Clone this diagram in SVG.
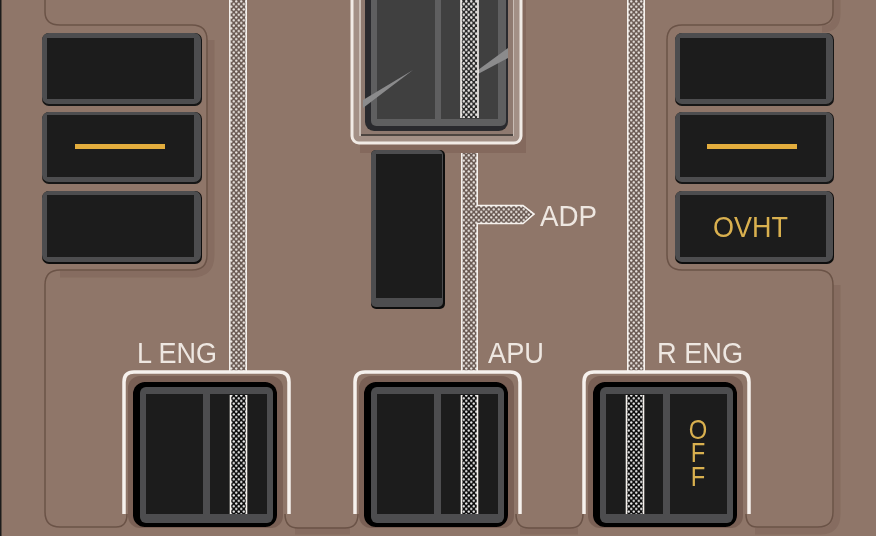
<svg xmlns="http://www.w3.org/2000/svg" width="876" height="536" viewBox="0 0 876 536">
<style>
.panel{fill:none;stroke:#6b5347;stroke-width:1.5}
.panelsh{fill:none;stroke:#866c60;stroke-width:7}
.guard{fill:none;stroke:#f6f1ed;stroke-width:3.5}
.halo{fill:#7a6155}
.out{fill:#000}
.frame{fill:#4e4e4f}
.pane{fill:#1b1b1b}
.dark{fill:#3f3f40}
.lab{font-family:"Liberation Sans",Arial,sans-serif;font-size:29px;fill:#eee7e1}
.amb{font-family:"Liberation Sans",Arial,sans-serif;font-size:29px;fill:#d9b04f}
.bar{fill:#e3ad3d}
.edge{stroke:#f6f2ee;stroke-width:1.6;fill:none}
.s1{fill:url(#dotsOut)}
.s2{fill:url(#dotsIn)}
.s3{fill:url(#dotsTop)}
</style>
<defs>
<pattern id="dotsOut" width="5" height="5.4" patternUnits="userSpaceOnUse">
<rect width="5" height="5.4" fill="#6a5a53"/>
<circle cx="1.25" cy="1.35" r="1.2" fill="#efe9e4"/><circle cx="3.75" cy="4.05" r="1.2" fill="#efe9e4"/>
</pattern>
<pattern id="dotsIn" width="5" height="5.4" patternUnits="userSpaceOnUse">
<rect width="5" height="5.4" fill="#0c0c0c"/>
<circle cx="1.25" cy="1.35" r="1.2" fill="#f0f0f0"/><circle cx="3.75" cy="4.05" r="1.2" fill="#f0f0f0"/>
</pattern>
<pattern id="dotsTop" width="5" height="5.4" patternUnits="userSpaceOnUse">
<rect width="5" height="5.4" fill="#2c2c2c"/>
<circle cx="1.25" cy="1.35" r="1.25" fill="#e6e3e1"/><circle cx="3.75" cy="4.05" r="1.25" fill="#e6e3e1"/>
</pattern>
<filter id="soft" x="0" y="0" width="100%" height="100%"><feGaussianBlur stdDeviation="0.4"/></filter>
<g id="sw">
<rect x="-5" y="-6" width="155" height="152" rx="12" class="halo"/>
<rect x="0" y="0" width="144" height="145" rx="12" class="out"/>
<rect x="7" y="5" width="133" height="136" rx="6" class="frame"/>
<rect x="13" y="12" width="57" height="120" class="pane"/>
<rect x="77" y="12" width="57" height="120" class="pane"/>
</g>
</defs>
<g filter="url(#soft)">
<rect width="876" height="536" fill="#8f7669"/>
<rect width="1.5" height="536" fill="#1a1a1a"/>

<g id="panels">
<path class="panelsh" d="M837 0V14Q837 29 822 29"/>
<path class="panelsh" d="M837 285V514Q837 531 820 531H755M578 531H520M350 531H295"/>
<path class="panelsh" d="M211 40V255Q211 274 192 274H60"/>
<path class="panel" d="M45 0V12Q45 25 60 25H192Q207 25 207 40V255Q207 270 192 270H60Q45 270 45 285V512Q45 527 60 527H116Q127 527 127 514"/>
<path class="panel" d="M285 514Q285 528 298 528H345Q358 528 358 514"/>
<path class="panel" d="M516 514Q516 528 529 528H570Q583 528 583 514"/>
<path class="panel" d="M833 0V12Q833 25 818 25H682Q667 25 667 40V255Q667 270 682 270H818Q833 270 833 285V512Q833 527 818 527H757Q746 527 746 514"/>
</g>

<g id="connectors">
<rect class="s1" x="229" y="0" width="18" height="371"/>
<path class="edge" d="M229.800 0V371M246.200 0V371"/>
<rect class="s1" x="627" y="0" width="18" height="371"/>
<path class="edge" d="M627.800 0V371M644.200 0V371"/>
<path class="s1" d="M461 153H478V205H523L535 214L523 224H478V371H461Z"/>
<path class="edge" d="M461.800 153V371M477.200 153V205.500H523L534 214L523 223.500H477.200V371"/>
</g>

<g id="btn-left-1"><rect x="42" y="33" width="160" height="73" rx="7" fill="#141414"/><rect x="42" y="33" width="159" height="71" rx="7" class="frame"/><rect class="pane" x="47" y="38" width="147" height="61"/></g>
<g id="btn-left-2"><rect x="42" y="112" width="160" height="72" rx="7" fill="#141414"/><rect x="42" y="112" width="159" height="70" rx="7" class="frame"/><rect class="pane" x="47" y="115" width="147" height="62"/><rect class="bar" x="75" y="144" width="90" height="5"/></g>
<g id="btn-left-3"><rect x="42" y="191" width="160" height="73" rx="7" fill="#0c0c0c"/><rect x="42" y="191" width="159" height="71" rx="7" class="frame"/><rect class="pane" x="47" y="195" width="147" height="62"/></g>
<g id="btn-right-1"><rect x="675" y="33" width="159" height="73" rx="7" fill="#141414"/><rect x="675" y="33" width="158" height="71" rx="7" class="frame"/><rect class="pane" x="680" y="38" width="146" height="61"/></g>
<g id="btn-right-2"><rect x="675" y="112" width="159" height="72" rx="7" fill="#141414"/><rect x="675" y="112" width="158" height="70" rx="7" class="frame"/><rect class="pane" x="680" y="115" width="146" height="62"/><rect class="bar" x="707" y="144" width="90" height="5"/></g>
<g id="btn-right-3"><rect x="675" y="191" width="159" height="73" rx="7" fill="#0c0c0c"/><rect x="675" y="191" width="158" height="71" rx="7" class="frame"/><rect class="pane" x="680" y="195" width="146" height="62"/><text class="amb" x="713" y="237" textLength="75" lengthAdjust="spacingAndGlyphs">OVHT</text></g>

<g id="switch-top">
<rect x="360" y="-20" width="166" height="173" fill="#84695d"/>
<rect x="352" y="-20" width="169" height="163" rx="7" fill="#a39086"/>
<rect x="352" y="-20" width="169" height="163" rx="7" fill="none" stroke="#f1ebe6" stroke-width="3"/>
<path d="M360 0V135H513V0" fill="none" stroke="#c9bdb5" stroke-width="2"/>
<rect x="361" y="0" width="152" height="135" fill="#8f7a6f"/>
<rect x="361" y="134" width="152" height="2" fill="#4e4440"/>
<rect x="365" y="-20" width="143" height="151" rx="9" fill="#2c2c2d"/>
<rect x="371" y="-20" width="135" height="146" rx="5" fill="#5e5e60"/>
<rect x="377" y="-10" width="58" height="129" class="dark"/>
<rect x="441" y="-10" width="57" height="129" class="dark"/>
<polygon points="363,100 413,70 363,108" fill="#8b8b8c"/>
<polygon points="508,48 478,70 478,74 508,58" fill="#8b8b8c"/>
<rect class="s3" x="461" y="0" width="17" height="118"/>
<path class="edge" d="M461 0V118M478 0V118"/>
</g>

<g id="switch-small">
<rect x="371" y="150" width="74" height="159" rx="5" fill="#111"/>
<rect x="371" y="150" width="72" height="157" rx="5" class="frame"/>
<rect x="376" y="154" width="66" height="144" class="pane"/>
</g>

<g id="switch-l-eng">
<use href="#sw" x="133" y="382"/>
<path class="guard" d="M124 514V382Q124 372 134 372H279Q289 372 289 382V514"/>
<rect class="s2" x="230" y="395" width="17" height="119"/>
<path class="edge" d="M230.500 395V514M246.500 395V514"/>
<text class="lab" x="137" y="363" textLength="80" lengthAdjust="spacingAndGlyphs">L ENG</text>
</g>

<g id="switch-apu">
<use href="#sw" x="364" y="382"/>
<path class="guard" d="M355 514V382Q355 372 365 372H510Q520 372 520 382V514"/>
<rect class="s2" x="461" y="395" width="17" height="119"/>
<path class="edge" d="M461.500 395V514M477.500 395V514"/>
<text class="lab" x="488" y="363" textLength="56" lengthAdjust="spacingAndGlyphs">APU</text>
</g>

<g id="switch-r-eng">
<use href="#sw" x="593" y="382"/>
<path class="guard" d="M584 514V382Q584 372 594 372H739Q749 372 749 382V514"/>
<rect class="s2" x="626" y="395" width="18" height="119"/>
<path class="edge" d="M626.500 395V514M643.500 395V514"/>
<text class="lab" x="657" y="363" textLength="86" lengthAdjust="spacingAndGlyphs">R ENG</text>
<text class="amb" transform="translate(698 413) scale(0.85 1)" x="0" y="0" style="font-size:28px;writing-mode:vertical-rl;text-orientation:upright;letter-spacing:-9px">OFF</text>
</g>

<g id="label-adp"><text class="lab" x="540" y="226" textLength="57" lengthAdjust="spacingAndGlyphs">ADP</text></g>
</g>
</svg>
